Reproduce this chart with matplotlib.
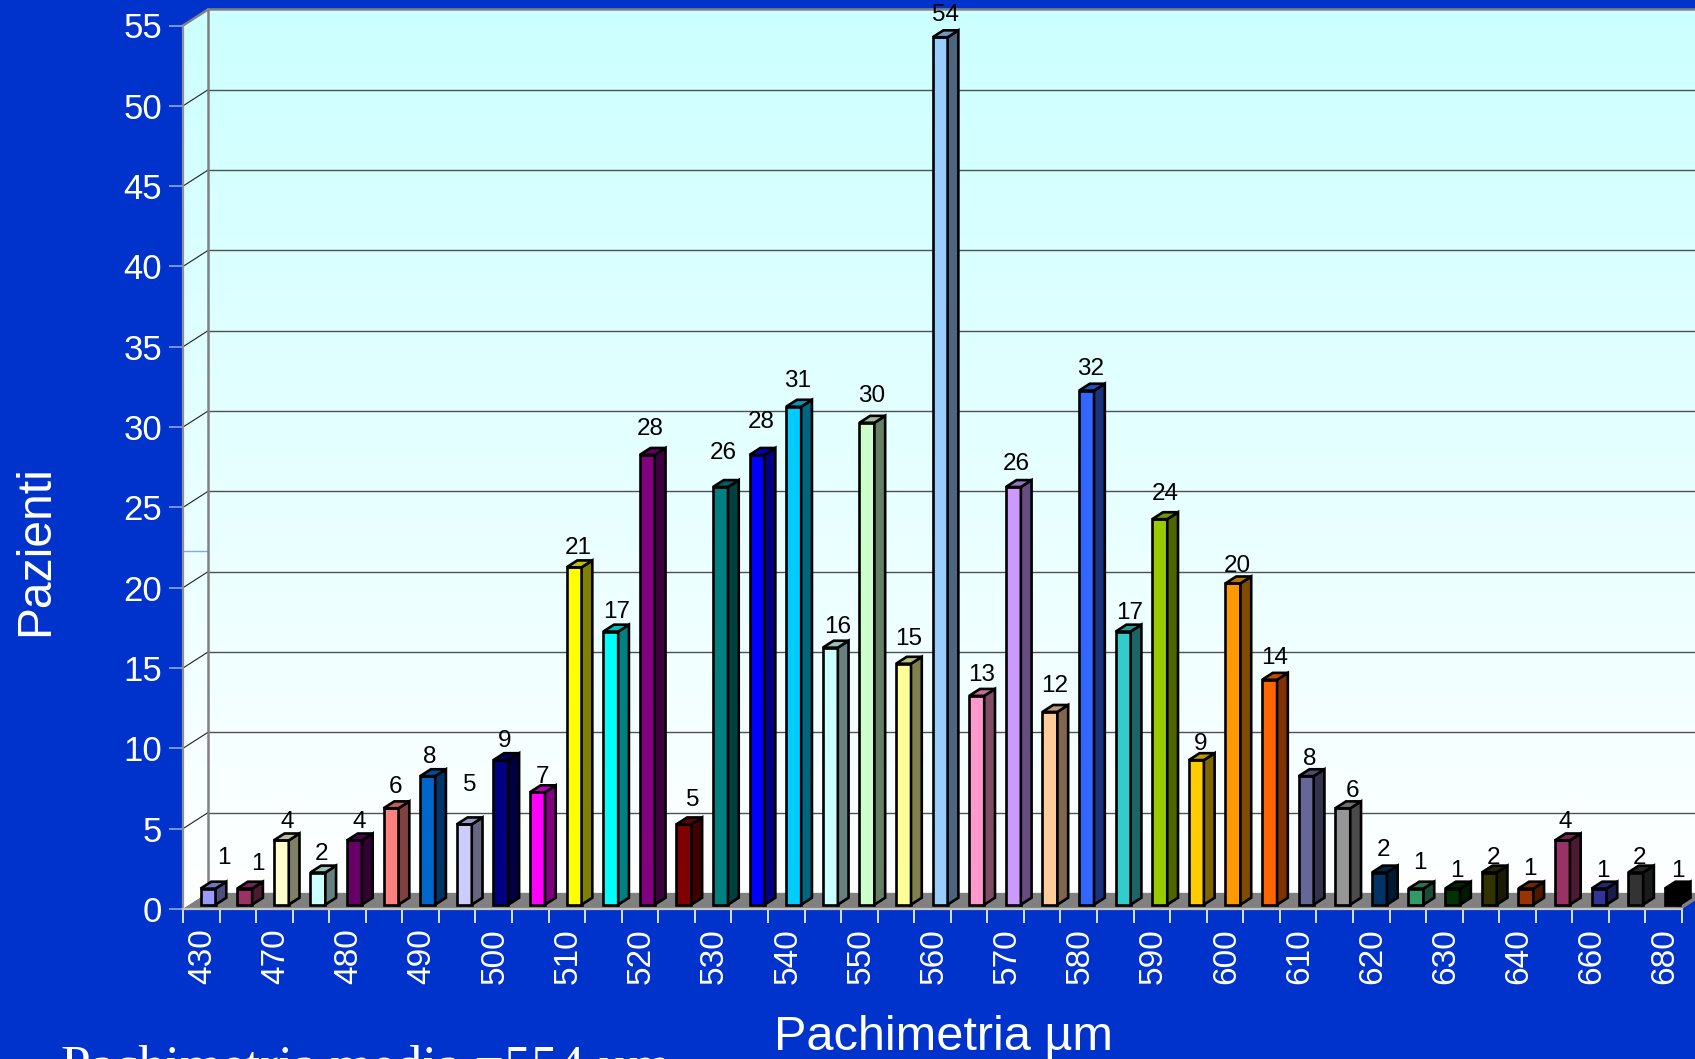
import matplotlib
matplotlib.use("Agg")
import matplotlib.pyplot as plt
import numpy as np
from matplotlib.colors import to_rgb
from matplotlib.patches import Polygon

plt.rcParams['font.family'] = ['Liberation Sans', 'DejaVu Sans']

# numeri
categories = ['430', '', '470', '', '480', '', '490', '', '500', '', '510', '', '520', '', '530', '', '540', '',
              '550', '', '560', '', '570', '', '580', '', '590', '', '600', '', '610', '', '620', '', '630', '',
              '640', '', '660', '', '680']
patients = [1, 1, 4, 2, 4, 6, 8, 5, 9, 7, 21, 17, 28, 5, 26, 28, 31, 16, 30, 15, 54, 13, 26, 12, 32, 17, 24, 9,
            20, 14, 8, 6, 2, 1, 1, 2, 1, 4, 1, 2, 1]
bar_colors = ['#9999FF', '#993366', '#FFFFCC', '#CCFFFF', '#660066', '#FF8080', '#0066CC', '#CCCCFF', '#000080',
              '#FF00FF', '#FFFF00', '#00FFFF', '#800080', '#800000', '#008080', '#0000FF', '#00CCFF', '#CCFFFF',
              '#CCFFCC', '#FFFF99', '#99CCFF', '#FF99CC', '#CC99FF', '#FFCC99', '#3366FF', '#33CCCC', '#99CC00',
              '#FFCC00', '#FF9900', '#FF6600', '#666699', '#969696', '#003366', '#339966', '#003300', '#333300',
              '#993300', '#993366', '#333399', '#333333', '#000000']
y_ticks = [0, 5, 10, 15, 20, 25, 30, 35, 40, 45, 50, 55]

# spostamento a mano delle etichette rispetto alla cima della barra
label_dx = [9.7, 7.9, 1.1, -0.8, 0.4, -0.4, -2.2, 1, -0.9, 0.3, -0.5, 1.7, -1.1, 4, -1.8, -0.6, -0.4, 2.8, 0.9,
            1.1, 1.3, 0.5, -1.3, 0.8, 0, 2.2, 1.4, 0.6, 0.8, 1, 0.1, 5.3, 0.5, 0.6, 0.8, 1, 0.2, -0.6, 0.5, 0.7, 2]
label_dy = [23, 17, 11.5, 12, 11.5, 14, 12, 31, 12, 9, 12.7, 13, 18.6, 16.7, 26.4, 24.6, 18, 14, 19, 17, 15, 13.7,
            15.4, 18.6, 15, 12, 18, 9, 10.6, 14.8, 10, 10.8, 15.3, 18, 11, 8, 13, 11.5, 11, 8, 11]
LABEL_SCALE = 1695 / 1568

BLUE = '#0033CC'
W, H = 1695, 1059
X0, X1, Y0, Y55 = 183, 1682, 909, 25.5

# finta prospettiva: profondita' 1 = parete di fondo
DEPTH_X = 0.684
DEPTH_Y = 1.0
BAR_START = 0.27
BAR_DEPTH = 0.43
BAR_WIDTH = 0.41
BAR_STEP = 1.0012  # nell'originale le barre "scivolano" un po' verso destra


def shade(color, k):
    return tuple(c * k for c in to_rgb(color))


def skew(x, y, d):
    return x + DEPTH_X * d, y + DEPTH_Y * d


fig = plt.figure(figsize=(W / 100, H / 100), dpi=100, facecolor=BLUE)
ax = fig.add_axes([X0 / W, 1 - Y0 / H, (X1 - X0) / W, (Y0 - Y55) / H])
ax.patch.set_visible(False)
n = len(patients)

# pareti con sfumatura
top = np.array(to_rgb('#CCFFFF'))
bottom = np.array(to_rgb('#FFFFFF'))
t = np.linspace(0, 1, 256)[:, None, None]
grad = top[None, None, :] * (1 - t) + bottom[None, None, :] * t
im = ax.imshow(grad, extent=(0, n + 1, 0, 56), aspect='auto', origin='upper', zorder=0)
wall = Polygon([skew(0, 0, 0), skew(0, 55, 0), skew(0, 55, 1), skew(n, 55, 1), skew(n, 0, 1), skew(0, 0, 1)],
               closed=True, transform=ax.transData, facecolor='none', edgecolor='none')
im.set_clip_box(fig.bbox)
im.set_clip_path(wall)

# griglia
for v in y_ticks[1:-1]:
    ax.plot([skew(0, v, 1)[0], skew(n, v, 1)[0]], [skew(0, v, 1)[1]] * 2, color='#505050', lw=1, zorder=1,
            clip_on=False)
    ax.plot([0, skew(0, v, 1)[0]], [v, skew(0, v, 1)[1]], color='#202020', lw=0.8, zorder=1, clip_on=False)
ax.plot([0, skew(0, 22.3, 1)[0]], [22.3, 22.3], color='#8FA3E8', lw=1, zorder=1)

# bordi delle pareti
ax.plot([skew(0, 0, 1)[0]] * 2, [skew(0, 0, 1)[1], skew(0, 55, 1)[1]], color='#808080', lw=1.8, zorder=1,
        clip_on=False)
ax.plot([0, skew(0, 55, 1)[0], skew(n, 55, 1)[0]], [55, skew(0, 55, 1)[1], skew(n, 55, 1)[1]], color='#808080',
        lw=1.8, zorder=1, clip_on=False)

# pavimento
ax.fill([0, skew(0, 0, 1)[0], skew(n, 0, 1)[0], n], [0, skew(0, 0, 1)[1], skew(n, 0, 1)[1], 0], color='#808080',
        lw=0, zorder=2, clip_on=False)

# barre
for i, v in enumerate(patients):
    left, base = skew(i * BAR_STEP + 0.5 - BAR_WIDTH / 2, 0, BAR_START)
    right = left + BAR_WIDTH
    dx, dy = DEPTH_X * BAR_DEPTH, DEPTH_Y * BAR_DEPTH
    c = bar_colors[i]
    ax.bar(left, v, width=BAR_WIDTH, bottom=base, align='edge', color=c, edgecolor='black', lw=1.9, zorder=3,
           clip_on=False)
    ax.fill([right, right + dx, right + dx, right], [base, base + dy, base + v + dy, base + v],
            facecolor=shade(c, 0.5), edgecolor='black', lw=1.9, zorder=3, clip_on=False)
    ax.fill([left, left + dx, right + dx, right], [base + v, base + v + dy, base + v + dy, base + v],
            facecolor=shade(c, 0.75), edgecolor='black', lw=1.9, zorder=3, clip_on=False)
    # le etichette restano riferite alla griglia delle categorie
    lx, ly = skew(i + 0.5, v, 0.47)
    ax.annotate(str(v), (lx, ly + 0.2),
                xytext=(label_dx[i] * LABEL_SCALE, (label_dy[i] - 0.5) * LABEL_SCALE), textcoords='offset pixels',
                ha='center', va='center', fontsize=17.5, color='black', zorder=4, annotation_clip=False)

ax.set_xlim(0, n)
ax.set_ylim(0, 55)

# assi
for s in ['top', 'right']:
    ax.spines[s].set_visible(False)
ax.spines['left'].set_color('#909090')
ax.spines['left'].set_linewidth(1.6)
ax.spines['bottom'].set_color('#C4C4C4')
ax.spines['bottom'].set_linewidth(1.6)
ax.spines['left'].set_zorder(5)
ax.spines['bottom'].set_zorder(5)

ax.set_yticks(y_ticks)
ax.tick_params(axis='y', length=10.4, width=1.2, color='#8FA3E8', labelcolor='white', labelsize=25, pad=4.5)
ax.set_xticks(np.arange(n + 1))
ax.set_xticklabels([])
ax.tick_params(axis='x', which='major', length=10.4, width=1.2, color='white')
for k, tick in enumerate(ax.xaxis.get_major_ticks()):
    if k % 2 == 0:
        tick.tick1line.set_color('#B4C0EC')

pos = [i + 0.54 for i, c in enumerate(categories) if c]
ax.set_xticks(pos, minor=True)
ax.set_xticklabels([c for c in categories if c], minor=True, rotation=90, va='top', ha='center')
ax.tick_params(axis='x', which='minor', length=0, labelcolor='white', labelsize=24, pad=14)

fig.text(36 / W, 1 - 551 / H, 'Pazienti', color='white', fontsize=34.6, rotation=90, ha='center', va='center')
fig.text(943 / W, 1 - 1038 / H, 'Pachimetria µm', color='white', fontsize=35, ha='center', va='center')
fig.text(61 / W, 1 - 1082 / H, 'Pachimetria media =554 µm', color='white', fontsize=38.5, family='Liberation Serif',
         ha='left', va='baseline')

fig.savefig('out.png', dpi=100, facecolor=BLUE)
